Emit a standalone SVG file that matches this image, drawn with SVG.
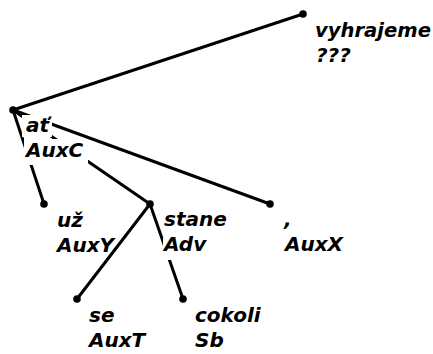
<svg xmlns="http://www.w3.org/2000/svg" width="433" height="354" viewBox="0 0 433 354">
<style>
  .bg { fill: #ffffff; }
  .edge { stroke: #000; stroke-width: 3; stroke-linecap: round; fill: none; }
  .dot { fill: #000; }
  .lbl { font-family: "DejaVu Sans", Verdana, sans-serif; font-weight: bold; font-style: italic; font-size: 20px; fill: #000; }
  .mask { fill: #ffffff; }
</style>
<rect class="bg" x="0" y="0" width="433" height="354"/>
<g id="connectors">
  <line class="edge" x1="303" y1="14" x2="13" y2="110"/>
  <line class="edge" x1="13" y1="110" x2="44" y2="204"/>
  <line class="edge" x1="13" y1="110" x2="150" y2="204"/>
  <line class="edge" x1="13" y1="110" x2="270" y2="204"/>
  <line class="edge" x1="150" y1="204" x2="77" y2="299"/>
  <line class="edge" x1="150" y1="204" x2="183" y2="299"/>
</g>
<g id="node-vyhrajeme">
  <circle class="dot" cx="303" cy="14" r="3.8"/>
  <text class="lbl" x="315" y="37" textLength="116" lengthAdjust="spacingAndGlyphs">vyhrajeme</text>
  <text class="lbl" x="316" y="62">???</text>
</g>
<g id="node-at">
  <circle class="dot" cx="13" cy="110" r="3.8"/>
  <rect class="mask" x="22" y="115" width="30" height="22"/>
  <rect class="mask" x="24" y="139" width="64" height="26"/>
  <text class="lbl" x="26" y="132">ať</text>
  <text class="lbl" x="26" y="157">AuxC</text>
</g>
<g id="node-uz">
  <circle class="dot" cx="44" cy="204" r="3.8"/>
  <text class="lbl" x="57" y="227">už</text>
  <text class="lbl" x="57" y="252">AuxY</text>
</g>
<g id="node-stane">
  <circle class="dot" cx="150" cy="204" r="3.8"/>
  <rect class="mask" x="163" y="238" width="40" height="22"/>
  <text class="lbl" x="164" y="226">stane</text>
  <text class="lbl" x="164" y="251">Adv</text>
</g>
<g id="node-comma">
  <circle class="dot" cx="270" cy="204" r="3.8"/>
  <text class="lbl" x="284" y="226">,</text>
  <text class="lbl" x="285" y="251">AuxX</text>
</g>
<g id="node-se">
  <circle class="dot" cx="77" cy="299" r="3.8"/>
  <text class="lbl" x="89" y="322">se</text>
  <text class="lbl" x="89" y="347">AuxT</text>
</g>
<g id="node-cokoli">
  <circle class="dot" cx="183" cy="299" r="3.8"/>
  <text class="lbl" x="195" y="322">cokoli</text>
  <text class="lbl" x="195" y="347">Sb</text>
</g>
</svg>
